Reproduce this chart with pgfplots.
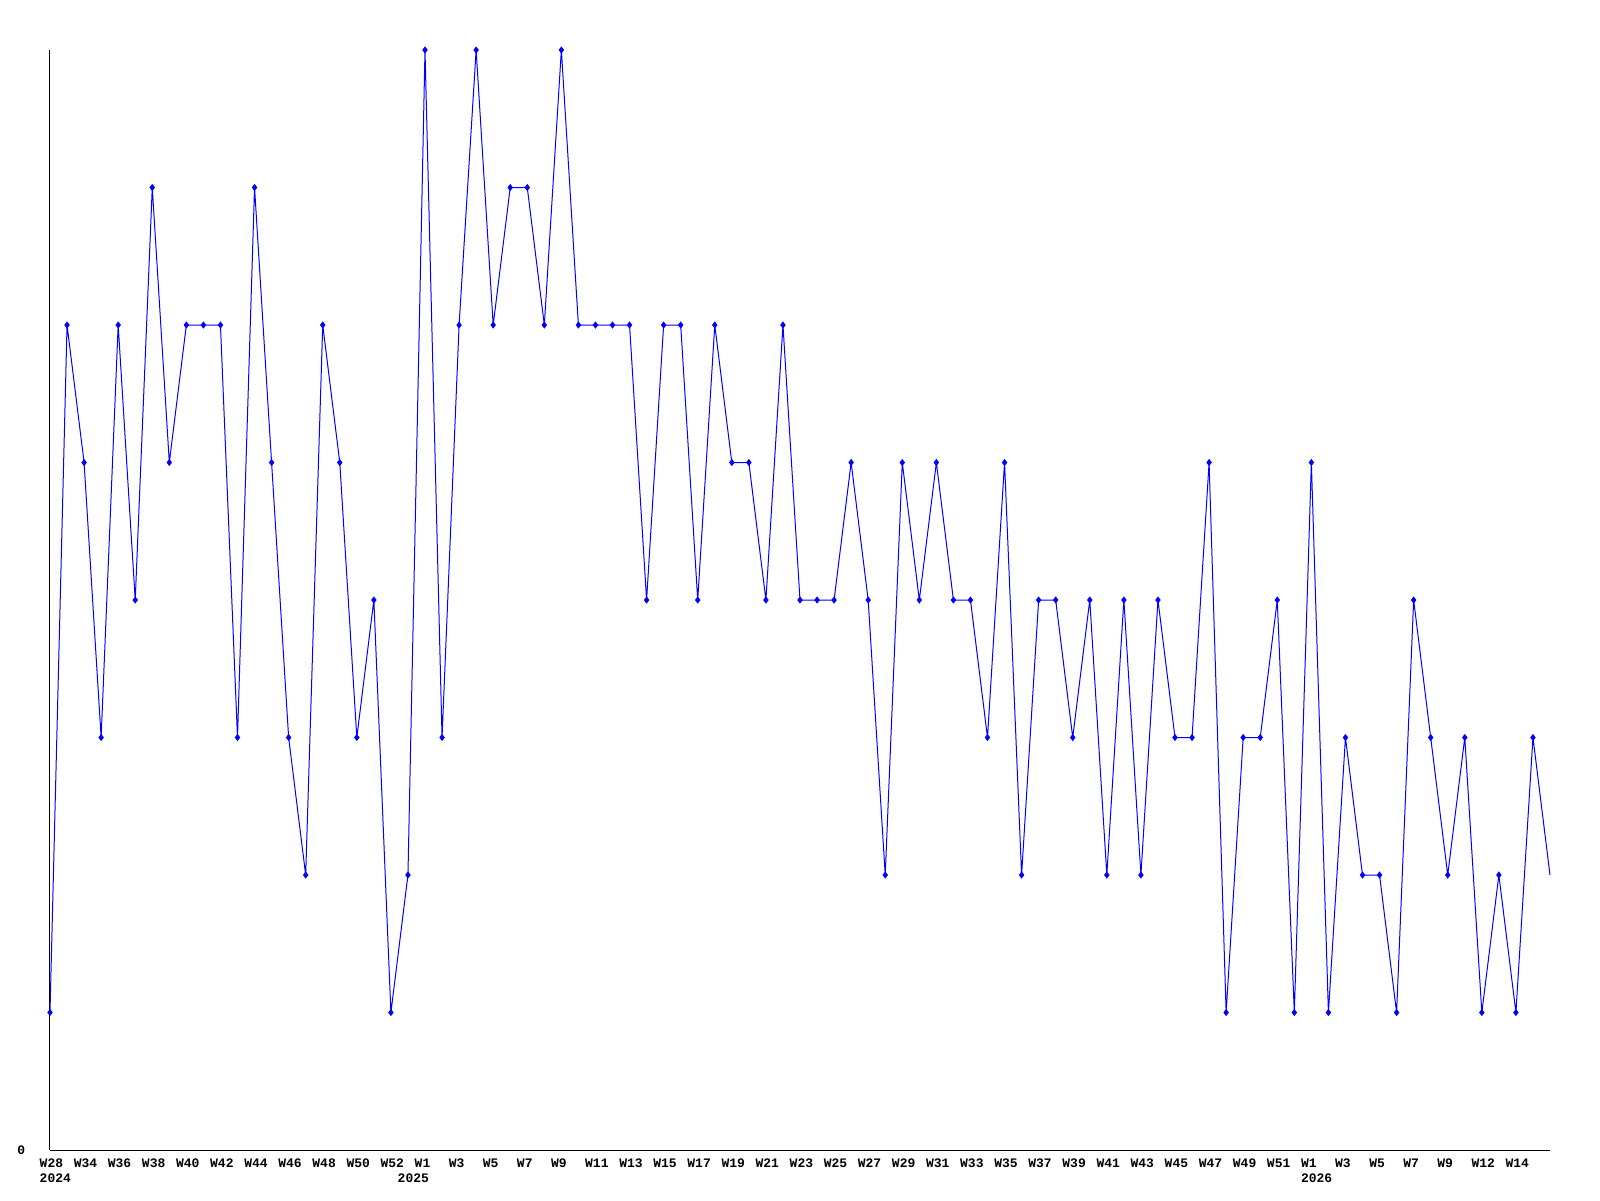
\documentclass[border=0pt]{standalone}
\usepackage{fontspec}
\setmainfont{Liberation Mono}
\usepackage{pgfplots}
\pgfplotsset{compat=1.18}
\usetikzlibrary{calc}

% weekly counts, one point per week index
\pgfplotstableread{
i v
0 1
1 6
2 5
3 3
4 6
5 4
6 7
7 5
8 6
9 6
10 6
11 3
12 7
13 5
14 3
15 2
16 6
17 5
18 3
19 4
20 1
21 2
22 8
23 3
24 6
25 8
26 6
27 7
28 7
29 6
30 8
31 6
32 6
33 6
34 6
35 4
36 6
37 6
38 4
39 6
40 5
41 5
42 4
43 6
44 4
45 4
46 4
47 5
48 4
49 2
50 5
51 4
52 5
53 4
54 4
55 3
56 5
57 2
58 4
59 4
60 3
61 4
62 2
63 4
64 2
65 4
66 3
67 3
68 5
69 1
70 3
71 3
72 4
73 1
74 5
75 1
76 3
77 2
78 2
79 1
80 4
81 3
82 2
83 3
84 1
85 2
86 1
87 3
88 2
}\weekly

\definecolor{pureblue}{RGB}{0,0,255}

\begin{document}
\begin{tikzpicture}
\begin{axis}[
  scale only axis,
  width=15cm, height=11cm,
  xmin=0, xmax=88, ymin=0, ymax=8,
  axis x line=bottom, axis y line=left,
  axis line style={-, black, line width=0.01cm},
  clip=false,
  ytick={0},
  xtick={0,2,...,86},
  xticklabels={{W28\\2024},W34,W36,W38,W40,W42,W44,W46,W48,W50,W52,{W1\\\hspace*{-0.17cm}2025},W3,W5,W7,W9,W11,W13,W15,W17,W19,W21,W23,W25,W27,W29,W31,W33,W35,W37,W39,W41,W43,W45,W47,W49,W51,{W1\\2026},W3,W5,W7,W9,W12,W14},
  major tick length=0pt,
  tick style={draw=none},
  /pgf/number format/assume math mode=true,
  ticklabel style={font=\bfseries\fontsize{3.7}{4.27}\selectfont, inner sep=0pt},
  xticklabel style={align=left, anchor=north west, xshift=-0.11cm, yshift=-0.08cm},
  yticklabel style={anchor=east, xshift=-0.24cm},
]
\addplot[pureblue, line width=0.01cm, mark=diamond*, mark size=0.028cm,
  mark options={solid, fill=pureblue}, mark indices={1,...,88}]
  table[x=i, y=v] {\weekly};
\end{axis}
\pgfresetboundingbox
\path ($(current axis.south west)+(-0.5cm,-0.5cm)$) rectangle ++(16cm,12cm);
\end{tikzpicture}
\end{document}
